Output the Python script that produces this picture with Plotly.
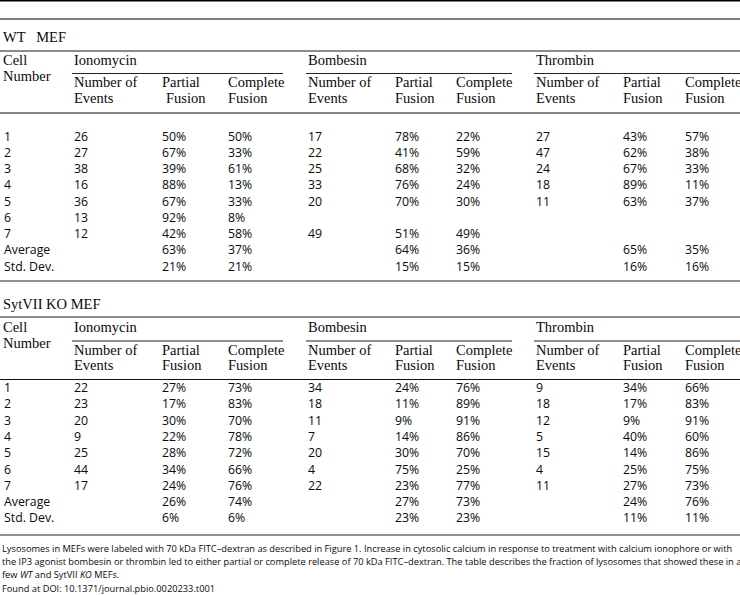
import plotly.graph_objects as go

W, H = 740, 595

# ---------------- data ----------------
row_labels = ["1", "2", "3", "4", "5", "6", "7", "Average", "Std. Dev."]
treatments = ["Ionomycin", "Bombesin", "Thrombin"]
sub_headers = [("Number of", "Events"), ("Partial", "Fusion"), ("Complete", "Fusion")]
section_titles = ["WT   MEF", "SytVII KO MEF"]

# WT MEF  (events for cells 1-7; partial/complete for cells 1-7, Average, Std. Dev.)
wt_iono_events = [26, 27, 38, 16, 36, 13, 12]
wt_iono_partial = [50, 67, 39, 88, 67, 92, 42, 63, 21]
wt_iono_complete = [50, 33, 61, 13, 33, 8, 58, 37, 21]
wt_bomb_events = [17, 22, 25, 33, 20, None, 49]
wt_bomb_partial = [78, 41, 68, 76, 70, None, 51, 64, 15]
wt_bomb_complete = [22, 59, 32, 24, 30, None, 49, 36, 15]
wt_thr_events = [27, 47, 24, 18, 11, None, None]
wt_thr_partial = [43, 62, 67, 89, 63, None, None, 65, 16]
wt_thr_complete = [57, 38, 33, 11, 37, None, None, 35, 16]

# SytVII KO MEF
ko_iono_events = [22, 23, 20, 9, 25, 44, 17]
ko_iono_partial = [27, 17, 30, 22, 28, 34, 24, 26, 6]
ko_iono_complete = [73, 83, 70, 78, 72, 66, 76, 74, 6]
ko_bomb_events = [34, 18, 11, 7, 20, 4, 22]
ko_bomb_partial = [24, 11, 9, 14, 30, 75, 23, 27, 23]
ko_bomb_complete = [76, 89, 91, 86, 70, 25, 77, 73, 23]
ko_thr_events = [9, 18, 12, 5, 15, 4, 11]
ko_thr_partial = [34, 17, 9, 40, 14, 25, 27, 24, 11]
ko_thr_complete = [66, 83, 91, 60, 86, 75, 73, 76, 11]

caption_lines = [
    "Lysosomes in MEFs were labeled with 70 kDa FITC\u2013dextran as described in Figure 1. Increase in cytosolic calcium in response to treatment with calcium ionophore or with",
    "the IP3 agonist bombesin or thrombin led to either partial or complete release of 70 kDa FITC\u2013dextran. The table describes the fraction of lysosomes that showed these in a",
    "few <i>WT</i> and SytVII <i>KO</i> MEFs.",
    "Found at DOI: 10.1371/journal.pbio.0020233.t001",
]

# ---------------- layout constants ----------------
SERIF = "Liberation Serif"
SANS = "Open Sans"
HDR_SIZE = 14.5
DATA_SIZE = 12.3
CAP_SIZE = 9.28
TXT = "#0a0a0a"

col_x = [2, 72, 160, 226, 306, 393, 454, 534, 621, 683]
group_spans = [(72, 283), (306, 512), (534, 740)]

sections = [
    dict(title=37, top_line=51, hdr1=60, num2=76, underline=73.5, sub1=82, sub2=98,
         hdr_line=113, row0=136, step=16.25, bottom=281, fusion_indent=4,
         cols=[wt_iono_events, wt_iono_partial, wt_iono_complete,
               wt_bomb_events, wt_bomb_partial, wt_bomb_complete,
               wt_thr_events, wt_thr_partial, wt_thr_complete]),
    dict(title=304, top_line=317, hdr1=327, num2=343, underline=341, sub1=349.5, sub2=365,
         hdr_line=379.5, row0=387.5, step=16.3, bottom=535, fusion_indent=0,
         cols=[ko_iono_events, ko_iono_partial, ko_iono_complete,
               ko_bomb_events, ko_bomb_partial, ko_bomb_complete,
               ko_thr_events, ko_thr_partial, ko_thr_complete]),
]

annotations = []
shapes = []


def text(x, y, s, family, size):
    annotations.append(dict(x=x, y=y, text=s, showarrow=False, xanchor="left",
                            yanchor="middle", align="left",
                            font=dict(family=family, size=size, color=TXT)))


def hline(y, x0, x1, color, width):
    shapes.append(dict(type="line", xref="x", yref="y", x0=x0, x1=x1, y0=y, y1=y,
                       line=dict(color=color, width=width)))


# top rules
hline(0.7, 0, W, "#000000", 1.6)
hline(19, 0, W, "#555555", 1.3)

for si, sec in enumerate(sections):
    text(1, sec["title"], section_titles[si], SERIF, HDR_SIZE)
    hline(sec["top_line"], 0, W, "#666666", 1.5)
    text(1, sec["hdr1"], "Cell", SERIF, HDR_SIZE)
    text(1, sec["num2"], "Number", SERIF, HDR_SIZE)
    for gi, tname in enumerate(treatments):
        gx0, gx1 = group_spans[gi]
        text(gx0, sec["hdr1"], tname, SERIF, HDR_SIZE)
        hline(sec["underline"], gx0, gx1, "#222222", 1)
        for ci, (l1, l2) in enumerate(sub_headers):
            cx = col_x[1 + gi * 3 + ci]
            text(cx, sec["sub1"], l1, SERIF, HDR_SIZE)
            indent = sec["fusion_indent"] if (gi == 0 and ci == 1) else 0
            text(cx + indent, sec["sub2"], l2, SERIF, HDR_SIZE)
    hline(sec["hdr_line"], 0, W, "#111111", 1.2)

    # body rows
    for ri, lab in enumerate(row_labels):
        y = sec["row0"] + ri * sec["step"]
        text(col_x[0], y, lab, SANS, DATA_SIZE)
        for ci, col in enumerate(sec["cols"]):
            if ri < len(col) and col[ri] is not None:
                is_pct = (ci % 3) != 0
                s = f"{col[ri]}%" if is_pct else f"{col[ri]}"
                text(col_x[1 + ci], y, s, SANS, DATA_SIZE)
    hline(sec["bottom"], 0, W, "#222222", 1.2)

# caption
cap_y = [548.5, 561, 574, 588.5]
for y, line in zip(cap_y, caption_lines):
    text(0, y, line, SANS, CAP_SIZE)

fig = go.Figure()
fig.update_layout(
    width=W, height=H,
    margin=dict(l=0, r=0, t=0, b=0),
    paper_bgcolor="white", plot_bgcolor="white",
    xaxis=dict(range=[0, W], visible=False, fixedrange=True),
    yaxis=dict(range=[H, 0], visible=False, fixedrange=True),
    annotations=annotations,
    shapes=shapes,
    showlegend=False,
)
fig.write_html(
    "out.html",
    config={"displayModeBar": False},
    post_script="document.body.style.margin='0';document.body.style.overflow='hidden';",
)
